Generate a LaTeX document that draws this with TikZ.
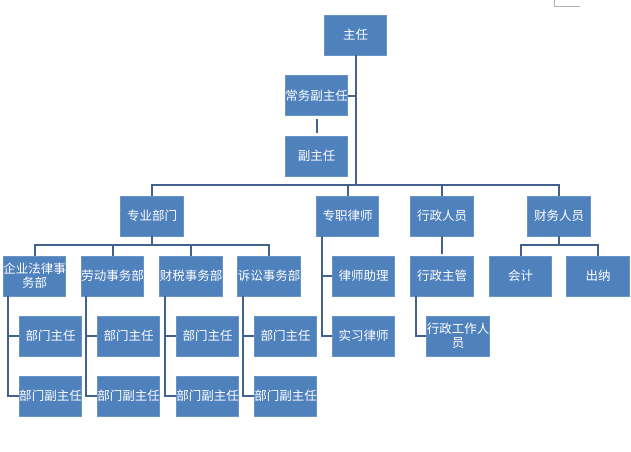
\documentclass[tikz,border=0pt]{standalone}
\usepackage{fontspec}
\setmainfont{Noto Sans CJK SC}
\definecolor{boxblue}{HTML}{4F81BD}
\definecolor{lineblue}{HTML}{43618D}
\begin{document}
\begin{tikzpicture}[x=1pt,y=-1pt,
  box/.style={fill=boxblue, draw=boxblue!85!white, line width=0.6pt, text=white,
    minimum width=62.5pt, minimum height=40pt, inner sep=0pt, align=center,
    font=\fontsize{12.5}{14}\selectfont},
  conn/.style={draw=lineblue, line width=2pt}]
\useasboundingbox (0,0) rectangle (631,451);
\fill[white] (0,0) rectangle (631,451);
\draw[gray!60, line width=0.6pt] (554,0) -- (554,6) -- (580,6);

\node[box] (zr)   at (355.5,35)  {主任};
\node[box] (cw)   at (316.5,95.5) {常务副主任};
\node[box] (fz)   at (316.5,156) {副主任};
\node[box] (zy)   at (152,216)   {专业部门};
\node[box] (zz)   at (347.5,216) {专职律师};
\node[box] (xz)   at (442,216)   {行政人员};
\node[box] (cwry) at (559,216)   {财务人员};
\node[box] (a)    at (34.5,276)  {企业法律事\\务部};
\node[box] (b)    at (112.5,276) {劳动事务部};
\node[box] (c)    at (191,276)   {财税事务部};
\node[box] (d)    at (269,276)   {诉讼事务部};
\node[box] (a1)   at (50.5,336)  {部门主任};
\node[box] (a2)   at (50.5,396)  {部门副主任};
\node[box] (b1)   at (128.5,336) {部门主任};
\node[box] (b2)   at (128.5,396) {部门副主任};
\node[box] (c1)   at (207.5,336) {部门主任};
\node[box] (c2)   at (207.5,396) {部门副主任};
\node[box] (d1)   at (285.5,336) {部门主任};
\node[box] (d2)   at (285.5,396) {部门副主任};
\node[box] (ls)   at (363.5,276) {律师助理};
\node[box] (sx)   at (363.5,336) {实习律师};
\node[box] (xzzg) at (442,276)   {行政主管};
\node[box] (xzgz) at (458,336)   {行政工作人\\员};
\node[box] (kj)   at (520.5,276) {会计};
\node[box] (cn)   at (598,276)   {出纳};

\coordinate (bus) at (356,185);
\coordinate (zbus) at (152,245);
\coordinate (cbus) at (559,245);

% top level
\draw[conn] (zr.south -| bus) -- (bus);
\draw[conn] (cw.east) -- (cw.east -| bus);
\draw[conn, shorten <=3pt, shorten >=3pt] (cw.south) -- (fz.north);
\draw[conn] (zy.north) -- (zy.north |- bus) -- (cwry.north |- bus) -- (cwry.north);
\draw[conn] (zz.north) -- (zz.north |- bus);
\draw[conn] (xz.north) -- (xz.north |- bus);

% departments
\draw[conn] (zy.south) -- (zbus);
\draw[conn] (a.north) -- (a.north |- zbus) -- (d.north |- zbus) -- (d.north);
\draw[conn] (b.north) -- (b.north |- zbus);
\draw[conn] (c.north) -- (c.north |- zbus);
\foreach \p in {a,b,c,d}{
  \draw[conn] ([xshift=5.5pt]\p.south west) |- (\p2.west);
  \draw[conn] ([xshift=5.5pt]\p.south west |- \p1.west) -- (\p1.west);
}

% lawyers
\draw[conn] ([xshift=6pt]zz.south west) |- (sx.west);
\draw[conn] ([xshift=6pt]zz.south west |- ls.west) -- (ls.west);

% admin
\draw[conn, shorten >=2pt] (xz.south) -- (xzzg.north);
\draw[conn] ([xshift=6pt]xzzg.south west) |- (xzgz.west);

% finance
\draw[conn] (cwry.south) -- (cbus);
\draw[conn] (kj.north) -- (kj.north |- cbus) -- (cn.north |- cbus) -- (cn.north);
\end{tikzpicture}
\end{document}
